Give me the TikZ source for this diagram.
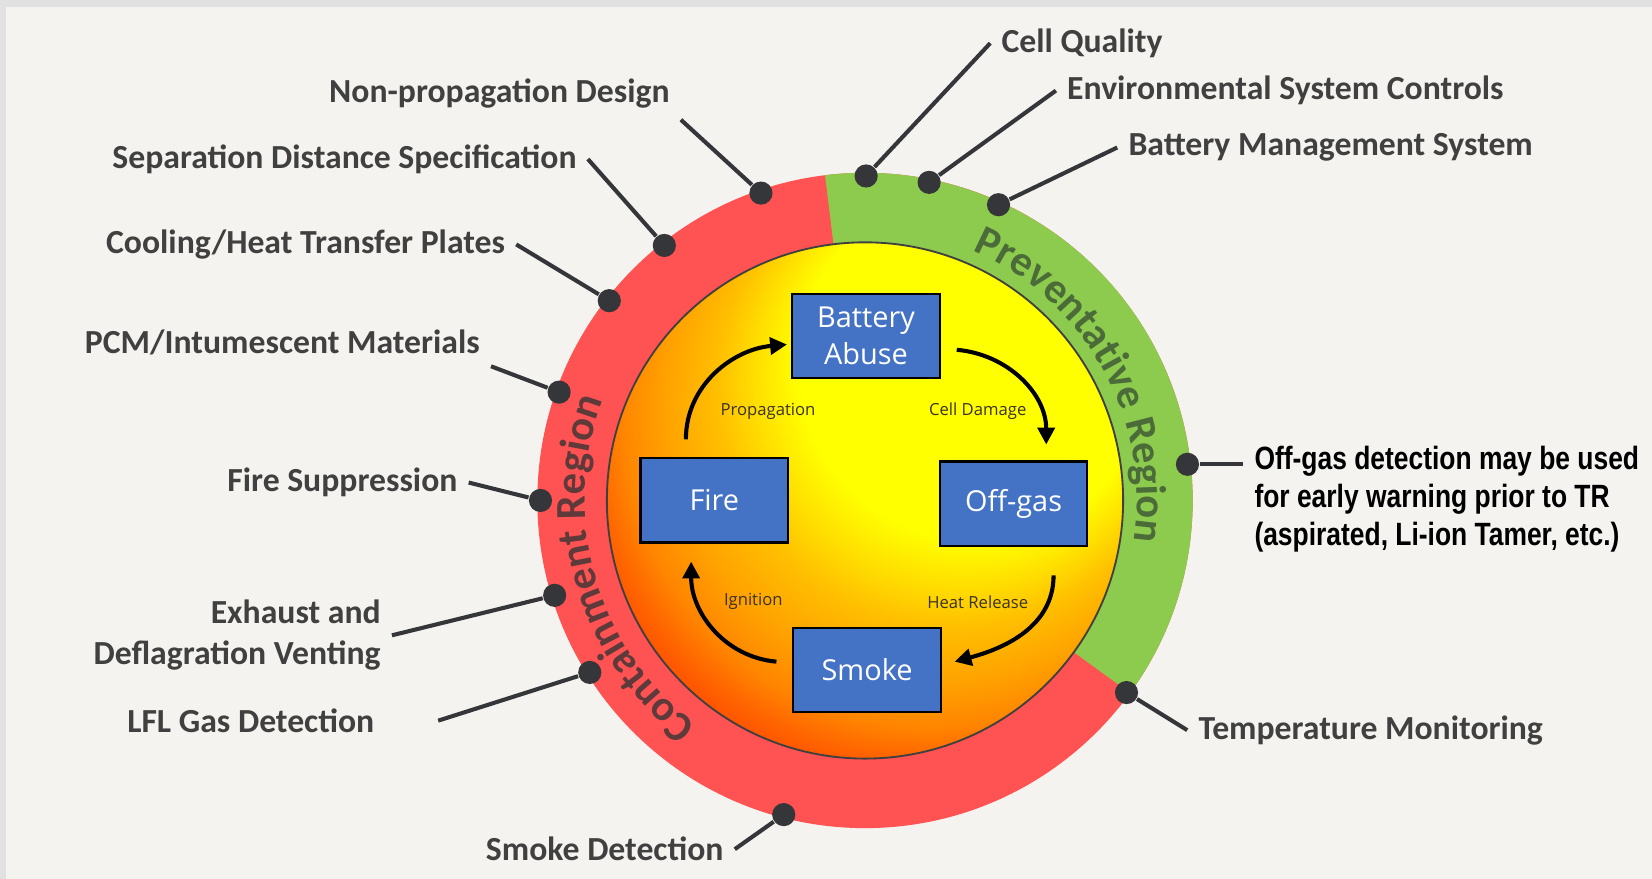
\documentclass[tikz,border=0pt]{standalone}
\usepackage{fontspec}
\setmainfont{Carlito}
\newfontfamily\boxfont{Open Sans}
\newfontfamily\notefont[FakeStretch=0.82]{Liberation Sans}
\usetikzlibrary{arrows.meta,decorations.text}

\definecolor{paper}{HTML}{F4F3EF}
\definecolor{edgegray}{HTML}{E1E1E1}
\definecolor{ringred}{HTML}{FF5252}
\definecolor{ringgreen}{HTML}{8DCB4E}
\definecolor{boxblue}{HTML}{4472C4}
\definecolor{pindark}{HTML}{35363A}
\definecolor{labelgray}{HTML}{404040}
\definecolor{cyctext}{HTML}{3A3222}
\definecolor{redtext}{HTML}{5E3A3A}
\definecolor{greentext}{HTML}{4B6B38}

\pgfdeclareradialshading{discglow}{\pgfpoint{16bp}{20bp}}{rgb(0bp)=(1,1,0); rgb(17bp)=(1,1,0); rgb(20bp)=(1,0.88,0); rgb(23bp)=(1,0.75,0); rgb(27bp)=(1,0.63,0); rgb(30bp)=(1,0.52,0); rgb(32bp)=(1,0.4,0); rgb(34bp)=(1,0.3,0); rgb(50bp)=(1,0.25,0)}

\begin{document}
\begin{tikzpicture}[
    stage/.style={draw=black, line width=0.6pt, fill=boxblue, text=white, align=center,
        font=\boxfont\fontsize{7.8}{10}\selectfont, minimum width=1.40cm, minimum height=0.80cm, inner sep=0pt},
    cyc/.style={line width=1.1pt, -{Triangle[length=1.6mm,width=1.6mm]}},
    cyclabel/.style={font=\boxfont\fontsize{4.5}{5}\selectfont, text=cyctext},
    pin/.style={circle, fill=pindark, minimum size=0.22cm, inner sep=0pt},
    leader/.style={pindark, line width=1.1pt},
    measure/.style={font=\bfseries\fontsize{9.1}{11}\selectfont, text=labelgray, inner sep=1mm},
]
    % Page and background
    \useasboundingbox (0,0) rectangle (15.68,-8.34);
    \fill[edgegray] (0,0) rectangle (15.68,-8.34);
    \fill[paper] (0.06,-0.07) rectangle (15.68,-8.34);
    \coordinate (C) at (8.21,-4.75);

    % Containment ring (red) and preventative sector (green)
    \fill[ringred] (C) circle (3.11);
    \fill[ringgreen] (C) -- ([shift={(-36:3.11)}]C) arc[start angle=-36, end angle=97, radius=3.11] -- cycle;

    % Inner disc
    \shade[shading=discglow] (C) circle (2.45);
    \draw[line width=0.5pt, black!75] (C) circle (2.45);

    % Region names along the ring
    \path[decorate, decoration={text along path, text align=center,
        text={|\bfseries\fontsize{11.5}{14}\selectfont\color{greentext}|Preventative Region}}]
        ([shift={(97:2.58)}]C) arc[start angle=97, end angle=-39, radius=2.58];
    \path[decorate, decoration={text along path, text align=center,
        text={|\bfseries\fontsize{11.5}{14}\selectfont\color{redtext}|Containment Region}}]
        ([shift={(264:2.66)}]C) arc[start angle=264, end angle=128, radius=2.66];

    % Failure cycle
    \node[stage] (abuse) at (8.22,-3.19) {Battery\\Abuse};
    \node[stage] (fire) at (6.78,-4.75) {Fire};
    \node[stage] (offgas) at (9.62,-4.78) {Off-gas};
    \node[stage] (smoke) at (8.23,-6.36) {Smoke};
    \draw[cyc] ([shift={(-0.27,0.17)}]fire.north) to[out=90, in=185] ([shift={(-0.04,-0.08)}]abuse.west);
    \draw[cyc] ([shift={(0.15,-0.13)}]abuse.east) to[out=-5, in=90] ([shift={(0.31,0.15)}]offgas.north);
    \draw[cyc] ([shift={(0.38,-0.27)}]offgas.south) to[out=-90, in=15] ([shift={(0.12,0.08)}]smoke.east);
    \draw[cyc] ([shift={(-0.15,0.08)}]smoke.west) to[out=175, in=-90] ([shift={(-0.22,-0.17)}]fire.south);
    \node[cyclabel] (lprop) at (7.29,-3.90) {Propagation};
    \node[cyclabel] (ldam) at (9.28,-3.90) {Cell Damage};
    \node[cyclabel] (lign) at (7.15,-5.71) {Ignition};
    \node[cyclabel] (lheat) at (9.28,-5.72) {Heat Release};

    % Containment measures
    \node[measure] (np) at (4.74,-0.89) {Non-propagation Design};
    \node[measure] (sds) at (3.27,-1.51) {Separation Distance Specification};
    \node[measure] (cool) at (2.90,-2.32) {Cooling/Heat Transfer Plates};
    \node[measure] (pcm) at (2.68,-3.25) {PCM/Intumescent Materials};
    \node[measure] (fs) at (3.25,-4.58) {Fire Suppression};
    \node[measure, align=right, anchor=east] (exh) at (3.72,-6.03) {Exhaust and\\Deflagration Venting};
    \node[measure] (lfl) at (2.38,-6.84) {LFL Gas Detection};
    \node[measure] (sd) at (5.74,-8.06) {Smoke Detection};
    \node[pin] (dnp) at ([shift={(108.7:3.08)}]C) {};
    \node[pin] (dsds) at ([shift={(128.2:3.08)}]C) {};
    \node[pin] (dcool) at ([shift={(142:3.08)}]C) {};
    \node[pin] (dpcm) at ([shift={(160.5:3.08)}]C) {};
    \node[pin] (dfs) at ([shift={(180:3.08)}]C) {};
    \node[pin] (dexh) at ([shift={(197:3.08)}]C) {};
    \node[pin] (dlfl) at ([shift={(212:3.08)}]C) {};
    \node[pin] (dsd) at ([shift={(255.5:3.08)}]C) {};
    \draw[leader] (np.south east) -- (dnp);
    \draw[leader] (sds.east) -- (dsds);
    \draw[leader] (cool.east) -- (dcool);
    \draw[leader] (pcm.south east) -- (dpcm);
    \draw[leader] (fs.east) -- (dfs);
    \draw[leader] (exh.east) -- (dexh);
    \draw[leader] ([xshift=5mm]lfl.east) -- (dlfl);
    \draw[leader] (sd.east) -- (dsd);

    % Preventative measures
    \node[measure] (cq) at (10.27,-0.41) {Cell Quality};
    \node[measure] (esc) at (12.20,-0.86) {Environmental System Controls};
    \node[measure] (bms) at (12.63,-1.40) {Battery Management System};
    \node[measure] (temp) at (13.01,-6.93) {Temperature Monitoring};
    \node[font=\notefont\bfseries\fontsize{8.7}{10.2}\selectfont, align=left, anchor=west, inner sep=1mm]
        (note) at (11.80,-4.74) {Off-gas detection may be used\\for early warning prior to TR\\(aspirated, Li-ion Tamer, etc.)};
    \node[pin] (dcq) at ([shift={(89.8:3.08)}]C) {};
    \node[pin] (desc) at ([shift={(78.6:3.08)}]C) {};
    \node[pin] (dbms) at ([shift={(65.7:3.08)}]C) {};
    \node[pin] (dog) at ([shift={(6.4:3.08)}]C) {};
    \node[pin] (dtemp) at ([shift={(-36.3:3.08)}]C) {};
    \draw[leader] (cq.west) -- (dcq);
    \draw[leader] (esc.west) -- (desc);
    \draw[leader] (bms.west) -- (dbms);
    \draw[leader] (dog) -- (dog -| note.west);
    \draw[leader] (temp.west) -- (dtemp);
\end{tikzpicture}
\end{document}
